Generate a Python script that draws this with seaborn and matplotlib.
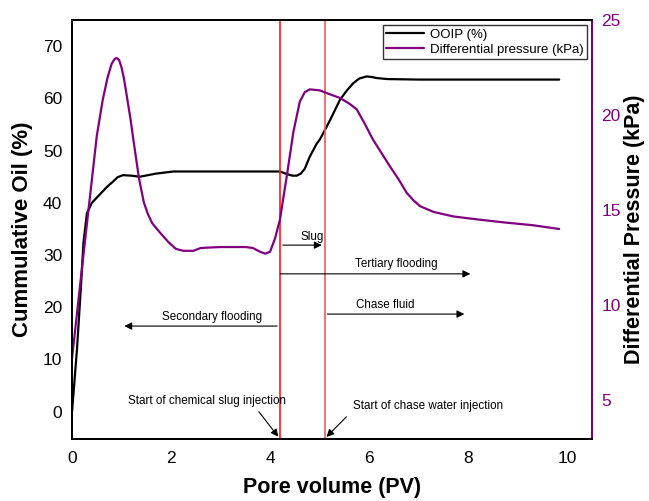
import matplotlib
matplotlib.use("Agg")
import matplotlib.pyplot as plt
import seaborn as sns
import pandas as pd

# ---- data ----
ooip_pv = [0.0, 0.1, 0.18, 0.23, 0.3, 0.4, 0.55, 0.7, 0.82, 0.92, 1.03, 1.2, 1.37, 1.7, 2.05,
           2.6, 3.2, 3.8, 4.2, 4.34, 4.45, 4.54, 4.62, 4.7, 4.8, 4.94, 5.01, 5.1, 5.21, 5.41,
           5.55, 5.68, 5.8, 5.95, 6.05, 6.15, 6.36, 7.0, 8.0, 9.0, 9.84]
ooip_pct = [0.0, 12.0, 24.0, 32.3, 38.0, 40.0, 41.5, 43.0, 44.0, 44.9, 45.3, 45.2, 45.0, 45.6, 46.0,
            46.0, 46.0, 46.0, 46.0, 45.5, 45.2, 45.2, 45.6, 46.5, 48.8, 51.3, 52.2, 53.8, 55.8, 59.7,
            61.5, 62.9, 63.8, 64.2, 64.1, 63.9, 63.7, 63.6, 63.6, 63.6, 63.6]

dp_pv = [0.0, 0.25, 0.5, 0.62, 0.72, 0.8, 0.86, 0.9, 0.95, 1.0, 1.05, 1.1, 1.18, 1.25, 1.35, 1.45,
         1.53, 1.62, 1.78, 1.95, 2.1, 2.25, 2.45, 2.6, 3.0, 3.5, 3.65, 3.8, 3.9, 4.0, 4.1, 4.2, 4.35,
         4.47, 4.6, 4.7, 4.8, 5.0, 5.2, 5.41, 5.6, 5.75, 5.9, 6.08, 6.25, 6.42, 6.6, 6.76, 6.9,
         7.03, 7.3, 7.7, 8.2, 8.71, 9.3, 9.84]
dp_kpa = [7.2, 13.1, 18.9, 20.8, 22.0, 22.7, 22.95, 23.0, 22.9, 22.5, 21.9, 21.1, 19.8, 18.5, 16.7, 15.4,
          14.8, 14.3, 13.8, 13.3, 12.95, 12.85, 12.85, 13.0, 13.05, 13.05, 13.0, 12.8, 12.7, 12.8, 13.5, 14.5, 17.0,
          19.1, 20.7, 21.2, 21.35, 21.3, 21.1, 20.9, 20.6, 20.3, 19.6, 18.7, 18.0, 17.3, 16.6, 15.9, 15.5,
          15.2, 14.9, 14.66, 14.5, 14.35, 14.2, 14.0]

event_pv = [4.2, 5.1]          # start of slug injection, start of chase water injection
x_ticks = [0, 2, 4, 6, 8, 10]
left_ticks = [0, 10, 20, 30, 40, 50, 60, 70]
right_ticks = [5, 10, 15, 20, 25]

PURPLE = "#800080"

sns.set_theme(style="white")
plt.rcParams["font.family"] = ["Liberation Sans", "DejaVu Sans"]
plt.rcParams["text.color"] = "black"
plt.rcParams["axes.labelcolor"] = "black"

fig = plt.figure(figsize=(6.49, 5.01), dpi=100)
ax = fig.add_axes([0.111, 0.124, 0.801, 0.836])
ax2 = ax.twinx()

df1 = pd.DataFrame({"pv": ooip_pv, "val": ooip_pct})
df2 = pd.DataFrame({"pv": dp_pv, "val": dp_kpa})
sns.lineplot(data=df1, x="pv", y="val", ax=ax, color="black", lw=1.6, sort=False,
             label="OOIP (%)", legend=False)
sns.lineplot(data=df2, x="pv", y="val", ax=ax2, color=PURPLE, lw=1.6, sort=False,
             label="Differential pressure (kPa)", legend=False)
for ln in ax.lines + ax2.lines:
    ln.set_solid_joinstyle("round")

ax.axvline(event_pv[0], color="#ff1a1a", lw=1.2)
ax.axvline(event_pv[1], color="#f25a5a", lw=1.2)

ax.set_xlim(0, 10.5)
ax.set_ylim(-5.2, 75)
ax2.set_ylim(2.95, 25)
ax.set_xticks(x_ticks)
ax.set_yticks(left_ticks)
ax2.set_yticks(right_ticks)

ax.tick_params(axis="both", length=0, labelsize=12.5, pad=7, colors="black")
ax.tick_params(axis="x", pad=9)
ax2.tick_params(axis="y", length=0, labelsize=12.5, pad=7, labelcolor=PURPLE)

for a in (ax, ax2):
    for s in a.spines.values():
        s.set_color("black")
        s.set_linewidth(1.3)
ax2.spines["right"].set_color(PURPLE)

ax.set_xlabel("Pore volume (PV)", fontsize=15.5, fontweight="bold", labelpad=8, color="black")
ax.set_ylabel("Cummulative Oil (%)", fontsize=16, fontweight="bold", labelpad=7, color="black")
ax2.set_ylabel("Differential Pressure (kPa)", fontsize=15.5, fontweight="bold",
               rotation=90, labelpad=2, color="black")
ax.grid(False)
ax2.grid(False)

# legend
h1, l1 = ax.get_legend_handles_labels()
h2, l2 = ax2.get_legend_handles_labels()
leg = ax2.legend(h1 + h2, l1 + l2, loc="upper right", fontsize=9.5, frameon=True,
                 fancybox=False, borderaxespad=0.4, handlelength=2.9,
                 borderpad=0.25, labelspacing=0.2, handletextpad=0.4)
leg.get_frame().set_edgecolor("black")
leg.get_frame().set_linewidth(1.0)
for t in leg.get_texts():
    t.set_color("black")

# annotations
arrow = dict(arrowstyle="-|>", color="black", lw=0.8, mutation_scale=11)
fs = 8.4
ax.annotate("", xy=(event_pv[1], 31.9), xytext=(event_pv[0], 31.9), arrowprops=arrow)
ax.text(4.85, 33.4, "Slug", fontsize=fs, ha="center", va="center")

ax.annotate("", xy=(8.1, 26.4), xytext=(4.15, 26.4), arrowprops=arrow)
ax.text(6.54, 28.2, "Tertiary flooding", fontsize=fs, ha="center", va="center")

ax.annotate("", xy=(7.98, 18.7), xytext=(event_pv[1], 18.7), arrowprops=arrow)
ax.text(6.33, 20.5, "Chase fluid", fontsize=fs, ha="center", va="center")

ax.annotate("", xy=(1.0, 16.4), xytext=(event_pv[0], 16.4), arrowprops=arrow)
ax.text(2.82, 18.2, "Secondary flooding", fontsize=fs, ha="center", va="center")

ax.annotate("", xy=(event_pv[0], -5.2), xytext=(3.74, 0.4), arrowprops=arrow)
ax.text(2.73, 2.0, "Start of chemical slug injection", fontsize=fs, ha="center", va="center")

ax.annotate("", xy=(event_pv[1], -5.2), xytext=(5.58, -0.6), arrowprops=arrow)
ax.text(5.68, 1.0, "Start of chase water injection", fontsize=fs, ha="left", va="center")

fig.savefig("out.png", dpi=100)
